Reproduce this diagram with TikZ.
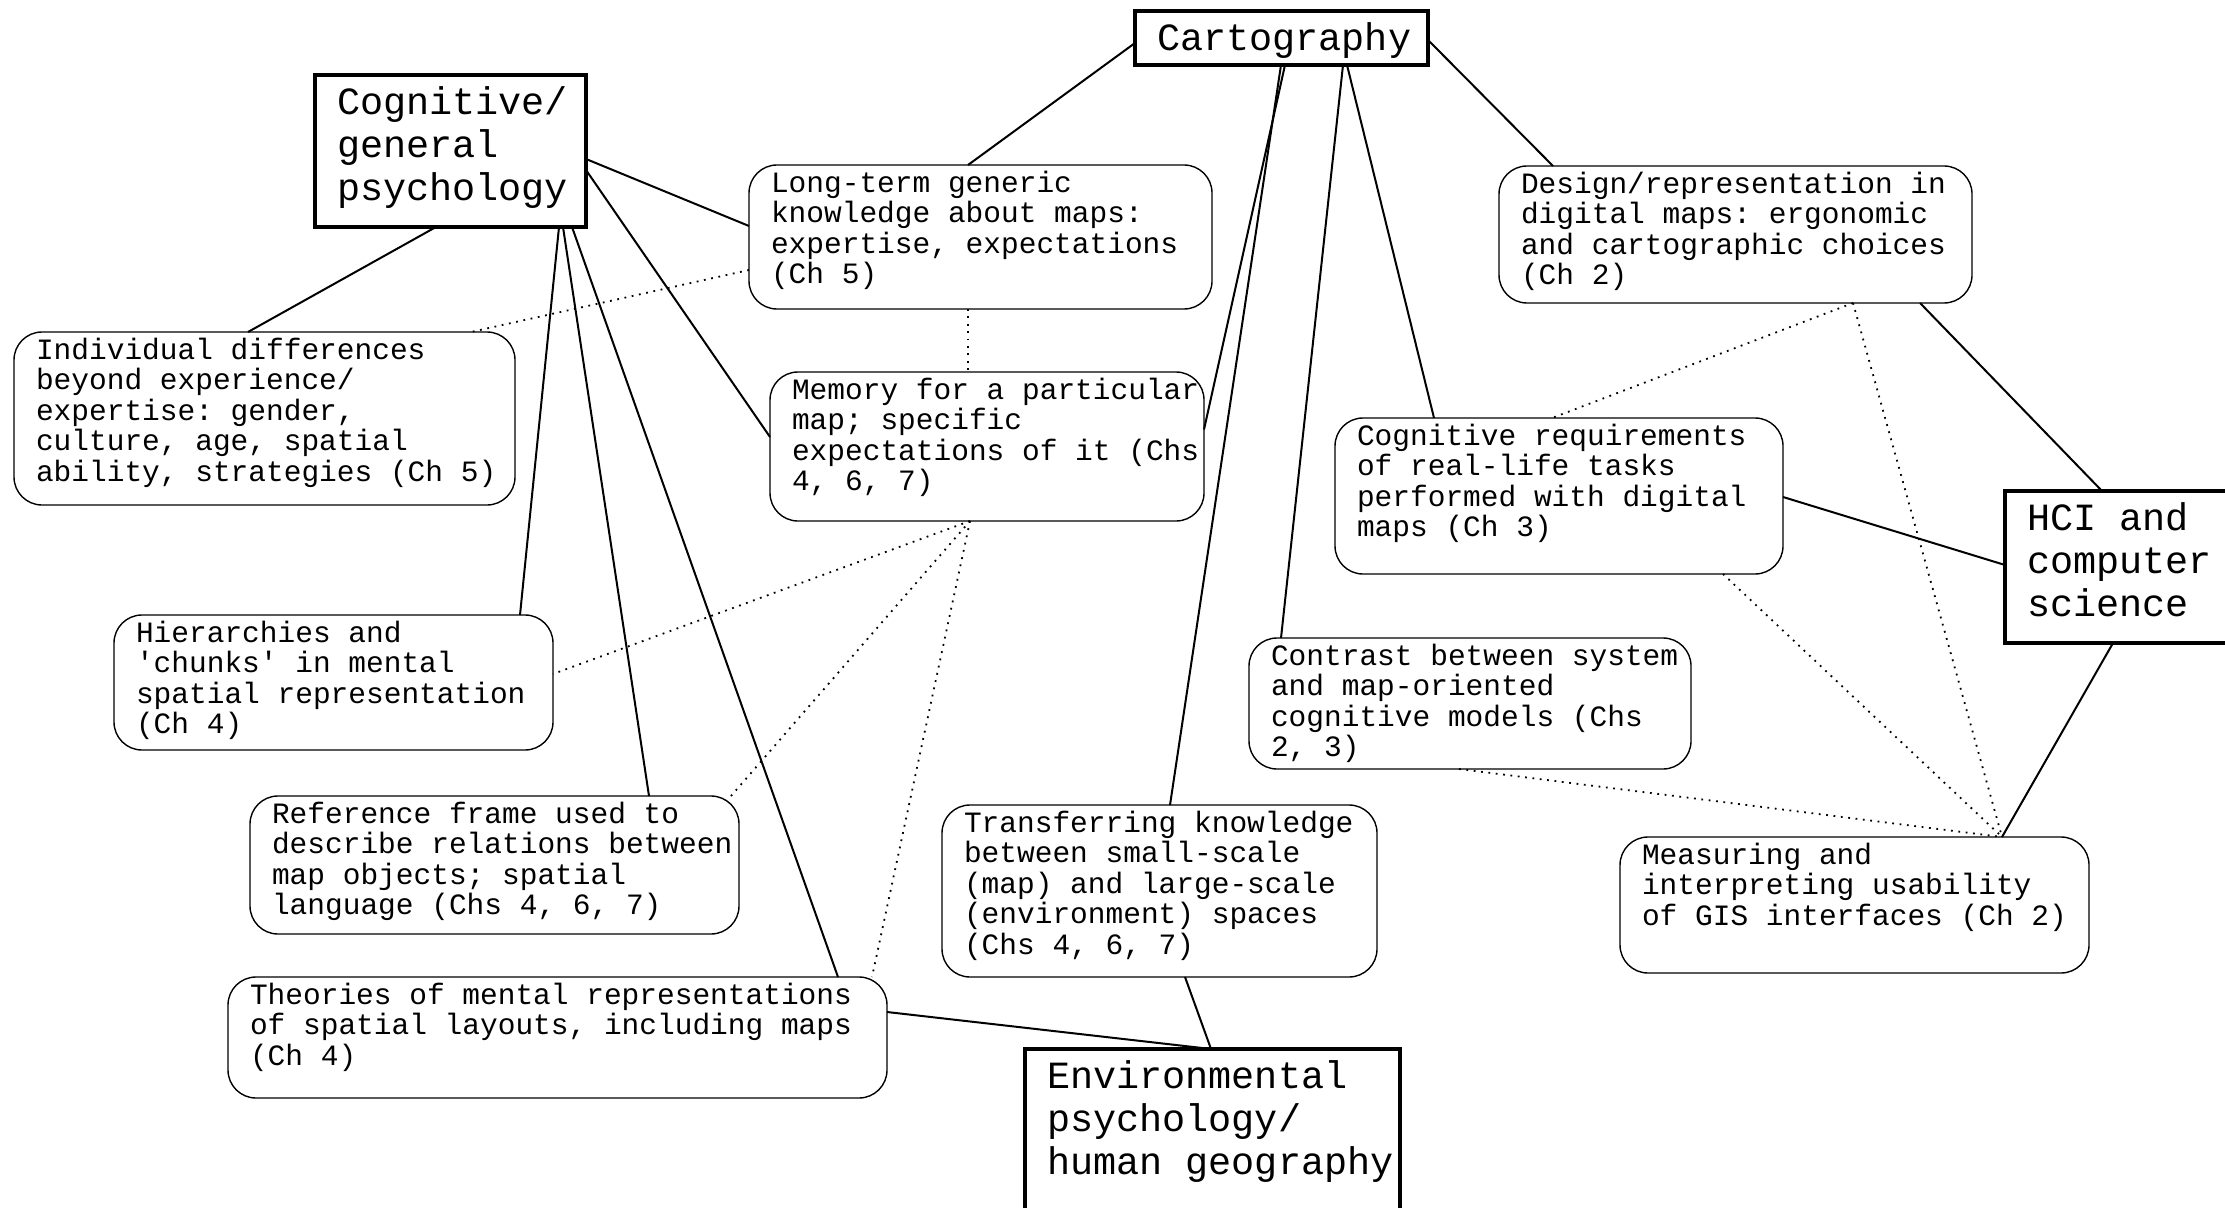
\documentclass[tikz,border=0pt]{standalone}
\usepackage{fontspec}
\setmonofont{Liberation Mono}
\usetikzlibrary{calc}
\newcommand\smallfont{\ttfamily\fontsize{14.75}{15.3}\selectfont}
\newcommand\bigfont{\ttfamily\fontsize{19.25}{21.5}\selectfont}
\tikzset{
 rbox/.style={draw, line width=0.7pt, rounded corners=14pt, inner xsep=11pt, inner ysep=2.8pt, outer sep=0pt},
 mbox/.style={draw, line width=1.6pt, inner xsep=11pt, inner ysep=4.5pt, outer sep=0pt},
 con/.style={line width=1pt},
 dcon/.style={line width=0.9pt, dash pattern=on 0.9pt off 2.8pt},
}
\newcommand\rb[6]{%
 \pgfmathsetmacro\bw{(#4-#2)*0.5}%
 \pgfmathsetmacro\bh{(#5-#3)*0.5}%
 \pgfmathsetmacro\pw{\bw-22}%
 \pgfmathsetmacro\ph{\bh-5.6}%
 \node[rbox, minimum width=\bw pt, minimum height=\bh pt] (#1) at ({(#2+#4)/2},{(#3+#5)/2})
  {\parbox[c][\ph pt][t]{\pw pt}{\smallfont\begin{tabular}[t]{@{}l@{}}#6\end{tabular}}};%
}
\newcommand\mb[6]{%
 \pgfmathsetmacro\bw{(#4-#2)*0.5}%
 \pgfmathsetmacro\bh{(#5-#3)*0.5}%
 \pgfmathsetmacro\pw{\bw-22}%
 \pgfmathsetmacro\ph{\bh-9}%
 \node[mbox, minimum width=\bw pt, minimum height=\bh pt] (#1) at ({(#2+#4)/2},{(#3+#5)/2})
  {\parbox[c][\ph pt][t]{\pw pt}{\bigfont\begin{tabular}[t]{@{}l@{}}#6\end{tabular}}};%
}
\begin{document}
\begin{tikzpicture}[x=0.5pt,y=-0.5pt]
\useasboundingbox (0,0) rectangle (2225,1208);
\fill[white] (0,0) rectangle (2225,1208);
\clip (0,0) rectangle (2225,1208);
% main boxes
\mb{cog}{315}{75}{586}{227}{Cognitive/\\general\\psychology}
\mb{cart}{1135}{11}{1428}{65}{Cartography}
\mb{hci}{2005}{491}{2245}{643}{HCI and\\computer\\science}
\mb{env}{1025}{1049}{1400}{1250}{Environmental\\psychology/\\human geography}
% topic boxes
\rb{lt}{749}{165}{1212}{309}{Long-term generic\\knowledge about maps:\\expertise, expectations\\(Ch 5)}
\rb{ind}{14}{332}{515}{505}{Individual differences\\beyond experience/\\expertise: gender,\\culture, age, spatial\\ability, strategies (Ch 5)}
\rb{mem}{770}{372}{1204}{521}{Memory for a particular\\map; specific\\expectations of it (Chs\\4, 6, 7)}
\rb{hier}{114}{615}{553}{750}{Hierarchies and\\'chunks' in mental\\spatial representation\\(Ch 4)}
\rb{ref}{250}{796}{739}{934}{Reference frame used to\\describe relations between\\map objects; spatial\\language (Chs 4, 6, 7)}
\rb{theo}{228}{977}{887}{1098}{Theories of mental representations\\of spatial layouts, including maps\\(Ch 4)}
\rb{trans}{942}{805}{1377}{977}{Transferring knowledge\\between small-scale\\(map) and large-scale\\(environment) spaces\\(Chs 4, 6, 7)}
\rb{des}{1499}{166}{1972}{303}{Design/representation in\\digital maps: ergonomic\\and cartographic choices\\(Ch 2)}
\rb{creq}{1335}{418}{1783}{574}{Cognitive requirements\\of real-life tasks\\performed with digital\\maps (Ch 3)}
\rb{contr}{1249}{638}{1691}{769}{Contrast between system\\and map-oriented\\cognitive models (Chs\\2, 3)}
\rb{meas}{1620}{837}{2089}{973}{Measuring and\\interpreting usability\\of GIS interfaces (Ch 2)}
% solid connectors
\draw[con] ($(cart.west)+(0,5)$) -- ($(lt.north west)+(219,0)$);
\draw[con] ($(cog.east)+(0,8)$) -- ($(lt.west)+(0,-11)$);
\draw[con] ($(cog.south west)+(121,0)$) -- ($(ind.north west)+(234,0)$);
\draw[con] ($(cog.south west)+(244,0)$) -- ($(hier.north west)+(406,0)$);
\draw[con] ($(cog.south west)+(248,0)$) -- ($(ref.north west)+(399,0)$);
\draw[con] ($(cog.south west)+(257,0)$) -- ($(theo.north west)+(610,0)$);
\draw[con] ($(cog.east)+(0,19)$) -- ($(mem.west)+(0,-9.5)$);
\draw[con] ($(cart.south west)+(150,0)$) -- ($(mem.east)+(0,-17)$);
\draw[con] ($(cart.south west)+(146,0)$) -- ($(trans.north west)+(228,0)$);
\draw[con] ($(cart.south west)+(208,0)$) -- ($(contr.north west)+(32,0)$);
\draw[con] ($(cart.south west)+(212,0)$) -- ($(creq.north west)+(99,0)$);
\draw[con] ($(cart.east)+(0,2)$) -- ($(des.north west)+(54,0)$);
\draw[con] ($(des.south west)+(421,0)$) -- ($(hci.north west)+(97,0)$);
\draw[con] ($(creq.east)+(0,1)$) -- ($(hci.west)+(0,-2)$);
\draw[con] ($(hci.south west)+(108,0)$) -- ($(meas.north west)+(382,0)$);
\draw[con] ($(trans.south west)+(243,0)$) -- ($(env.north west)+(186,0)$);
\draw[con] ($(theo.east)+(0,-25.5)$) -- ($(env.north west)+(186,0)$);
% dotted connectors
\draw[dcon] ($(lt.west)+(0,33)$) -- ($(ind.north west)+(457,0)$);
\draw[dcon] ($(lt.south west)+(219,0)$) -- ($(mem.north west)+(198,0)$);
\draw[dcon] ($(mem.south west)+(200,0)$) -- ($(hier.east)+(0,-8.5)$);
\draw[dcon] ($(mem.south west)+(200,0)$) -- ($(ref.north east)+(-8,0)$);
\draw[dcon] ($(mem.south west)+(200,0)$) -- ($(theo.north east)+(-15,0)$);
\draw[dcon] ($(des.south west)+(354,0)$) -- ($(creq.north west)+(217,0)$);
\draw[dcon] ($(des.south west)+(354,0)$) -- ($(meas.north west)+(382,0)$);
\draw[dcon] ($(creq.south west)+(388,0)$) -- ($(meas.north west)+(382,0)$);
\draw[dcon] ($(contr.south west)+(210,0)$) -- ($(meas.north west)+(382,0)$);
\end{tikzpicture}
\end{document}
